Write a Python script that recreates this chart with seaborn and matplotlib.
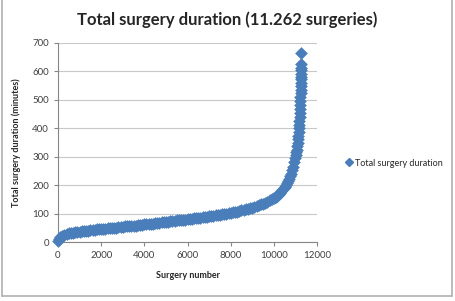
import matplotlib
matplotlib.use("Agg")
import matplotlib.pyplot as plt
from matplotlib.lines import Line2D
import seaborn as sns
import pandas as pd

# sorted surgery durations (surgery number -> minutes)
# every 100 surgeries up to 10000, then denser in the steep tail
body_number = list(range(0, 10001, 100))
body_duration = [
    5, 17, 22, 25, 28, 30, 31, 33, 34, 35,
    36, 37, 38, 39, 40, 41, 42, 43, 44, 45,
    46, 47, 47, 48, 49, 50, 50, 51, 52, 53,
    54, 55, 55, 56, 57, 58, 58, 59, 60, 61,
    62, 63, 64, 65, 65, 66, 67, 68, 69, 70,
    71, 72, 73, 74, 75, 76, 76, 77, 78, 79,
    80, 81, 82, 83, 84, 85, 86, 87, 88, 89,
    90, 91, 92, 94, 95, 96, 97, 98, 100, 101,
    103, 104, 106, 107, 109, 111, 113, 115, 117, 119,
    121, 123, 126, 129, 132, 135, 138, 142, 146, 150,
    155,
]
tail_number = [
    50, 10050, 10100, 10150, 10200, 10250, 10300, 10350, 10400, 10450,
    10500, 10550, 10600, 10650, 10700, 10750, 10800, 10850, 10900, 10950,
    11000, 11020, 11040, 11060, 11080, 11100, 11115, 11130, 11145, 11160,
    11172, 11184, 11195, 11205, 11213, 11220, 11226, 11232, 11237, 11241,
    11245, 11249, 11252, 11255, 11257, 11259, 11260, 11261, 11262,
]
tail_duration = [
    12, 157, 160, 163, 166, 170, 174, 178, 183, 189,
    195, 201, 208, 215, 222, 231, 240, 252, 265, 280,
    296, 305, 315, 325, 337, 350, 362, 374, 387, 400,
    413, 426, 440, 454, 468, 482, 496, 510, 523, 536,
    548, 560, 572, 582, 592, 605, 612, 625, 665,
]

df = pd.DataFrame({"Surgery number": body_number + tail_number,
                   "Total surgery duration": body_duration + tail_duration})

sns.set_style("white")
plt.rcParams["font.family"] = ["Lato", "DejaVu Sans"]

blue = "#4a7ebb"
grey = "#868686"

fig = plt.figure(figsize=(4.55, 3.01), dpi=100)
ax = fig.add_axes([58 / 455, 1 - 242 / 301, 259 / 455, 199 / 301])

sns.scatterplot(data=df, x="Surgery number", y="Total surgery duration",
                marker="D", s=42, color=blue, edgecolor=blue, linewidth=0,
                ax=ax, legend=False, zorder=3, clip_on=False)

ax.set_xlim(0, 12000)
ax.set_ylim(0, 700)
ax.set_xticks(range(0, 12001, 2000))
ax.set_yticks(range(0, 701, 100))
ax.yaxis.grid(True, color="#c8c8c8", linewidth=0.8)
ax.xaxis.grid(False)
for side in ["top", "right"]:
    ax.spines[side].set_visible(False)
for side in ["left", "bottom"]:
    ax.spines[side].set_color(grey)
    ax.spines[side].set_linewidth(0.8)
ax.tick_params(axis="both", labelsize=7, colors="#404040", length=3,
               width=0.8, direction="out", left=True, bottom=True)
ax.tick_params(axis="both", color=grey)
ax.set_xlabel("Surgery number", fontsize=6.5, fontweight="bold", labelpad=8)
ax.set_ylabel("Total surgery duration (minutes)", fontsize=6.5,
              fontweight="bold", labelpad=8)

fig.text(227 / 455, 1 - 20 / 301, "Total surgery duration (11.262 surgeries)",
         ha="center", va="center", fontsize=12, fontweight="bold")

handle = Line2D([], [], marker="D", linestyle="", color=blue, markersize=4)
fig.legend([handle], ["Total surgery duration"], loc="center left",
           bbox_to_anchor=(335 / 455, 1 - 163 / 301), frameon=False,
           fontsize=6.5, handletextpad=0.1, handlelength=1.2)

# chart border
fig.add_artist(Line2D([1.5 / 455, 1.5 / 455], [1, 1 - 296 / 301],
                      transform=fig.transFigure, color="#b0b0b0", lw=1.2))
fig.add_artist(Line2D([452 / 455, 452 / 455], [1, 1 - 296 / 301],
                      transform=fig.transFigure, color="#b0b0b0", lw=1.2))
fig.add_artist(Line2D([1.5 / 455, 452 / 455], [1 - 296 / 301, 1 - 296 / 301],
                      transform=fig.transFigure, color="#b0b0b0", lw=1.2))

fig.savefig("out.png", dpi=100)
